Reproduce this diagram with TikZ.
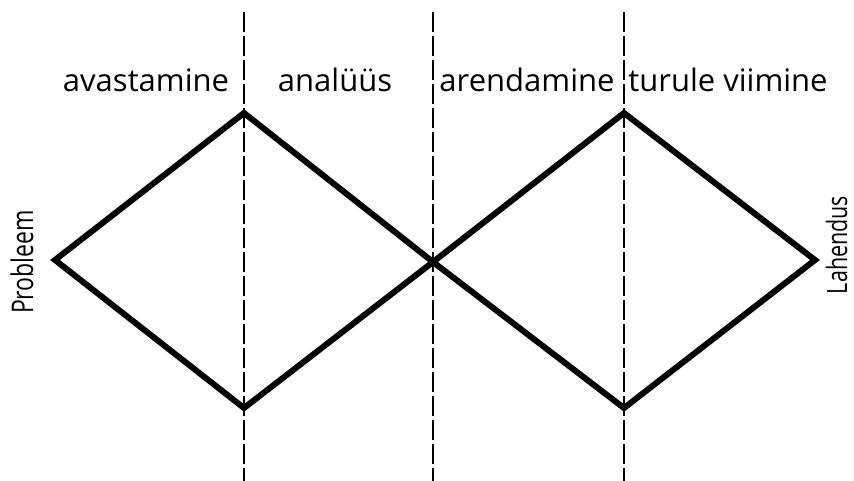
\documentclass[tikz,border=0pt]{standalone}
\usepackage{fontspec}
\setmainfont{Open Sans}
\begin{document}
\begin{tikzpicture}[x=1pt,y=1pt,
  divider/.style={line width=2pt, dash pattern=on 20pt off 4pt},
  diamondline/.style={line width=6pt, line join=miter},
  phase/.style={font=\fontsize{31}{36}\selectfont, anchor=base, inner sep=0pt},
  endlabel/.style={rotate=90, inner sep=0pt, text depth=0pt, anchor=base}]
\useasboundingbox (0,0) rectangle (854,481);
% dividers
\coordinate (d1t) at (244,469); \coordinate (d1b) at (244,0);
\coordinate (d2t) at (433,469); \coordinate (d2b) at (433,0);
\coordinate (d3t) at (624,469); \coordinate (d3b) at (624,0);
\draw[divider] (d1t) -- (d1b);
\draw[divider] (d2t) -- (d2b);
\draw[divider] (d3t) -- (d3b);
% diamond points
\coordinate (P) at (55,221);
\coordinate (T1) at (244,368);
\coordinate (B1) at (244,73);
\coordinate (C) at (433,219);
\coordinate (T2) at (624,368);
\coordinate (B2) at (624,73);
\coordinate (L) at (815,221);
\draw[diamondline] (P) -- (T1) -- (C) -- (B1) -- cycle;
\draw[diamondline] (C) -- (T2) -- (L) -- (B2) -- cycle;
% labels
\node[phase] (a1) at (146,389) {avastamine};
\node[phase] (a2) at (335,389) {analüüs};
\node[phase] (a3) at (527,389) {arendamine};
\node[phase] (a4) at (728,389) {turule viimine};
\node[endlabel, font=\fontsize{23}{27}\selectfont] (pr) at (33,219) {\scalebox{1}[1.3]{Probleem}};
\node[endlabel, font=\fontsize{21.5}{26}\selectfont] (lh) at (847,236) {\scalebox{1}[1.3]{Lahendus}};
\end{tikzpicture}
\end{document}
